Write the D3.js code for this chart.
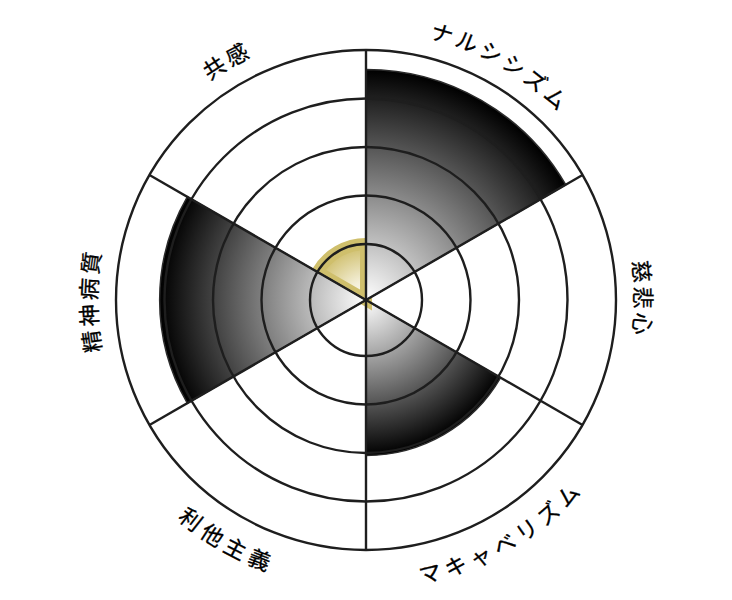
<!DOCTYPE html>
<html>
<head>
<meta charset="utf-8">
<script src="https://cdn.jsdelivr.net/npm/d3@7"></script>
<style>
  html, body { margin: 0; padding: 0; background: #fff; }
  svg { display: block; }
</style>
</head>
<body>
<div id="chart"></div>
<script>
// ---- data ----
const categories = ["ナルシシズム", "慈悲心", "マキャベリズム", "利他主義", "精神病質", "共感"];
const values = [4.6, 0, 3.05, 0, 4.1, 1.0];
const ringTicks = [1, 2, 3, 4, 5];
const maxValue = 5;
const highlightCategory = "共感";

// ---- layout ----
const W = 732, H = 600, cx = 366, cy = 300, outerR = 250, innerOffset = 7.5;

const svg = d3.select("#chart").append("svg")
  .attr("width", W).attr("height", H)
  .attr("viewBox", `0 0 ${W} ${H}`);
const defs = svg.append("defs");
const g = svg.append("g").attr("transform", `translate(${cx},${cy})`);

const rScale = d3.scaleLinear().domain([0, maxValue]).range([innerOffset, outerR]);
const aScale = d3.scaleBand().domain(categories).range([0, 2 * Math.PI]).paddingInner(0).paddingOuter(0);
const bw = aScale.bandwidth();

const data = categories.map((c, i) => ({ c, v: values[i], i }));
const barR = d => d.v > 0 ? rScale(d.v) : 0;

const arc = d3.arc()
  .innerRadius(0)
  .outerRadius(barR)
  .startAngle(d => aScale(d.c))
  .endAngle(d => aScale(d.c) + bw);

// gradients
data.forEach(d => {
  const grad = defs.append("radialGradient")
    .attr("id", "grad" + d.i)
    .attr("gradientUnits", "userSpaceOnUse")
    .attr("cx", 0).attr("cy", 0).attr("r", Math.max(barR(d), 1));
  const isGold = d.c === highlightCategory;
  grad.append("stop").attr("offset", "0%").attr("stop-color", "#ffffff");
  if (isGold) grad.append("stop").attr("offset", "35%").attr("stop-color", "#f3eed6");
  grad.append("stop").attr("offset", "100%").attr("stop-color", isGold ? "#cdbc66" : "#000000");
});

// drawing order: gold sector drawn before its neighbours so only its apex tip shows outside
const drawOrder = data.slice().sort((a, b) => {
  const rank = d => d.c === "マキャベリズム" ? 0 : (d.c === highlightCategory ? 1 : 2);
  return rank(a) - rank(b);
});

g.append("g").selectAll("path")
  .data(drawOrder.filter(d => d.v > 0))
  .join("path")
  .attr("d", arc)
  .attr("fill", d => `url(#grad${d.i})`)
  .attr("stroke", d => d.c === highlightCategory ? "#cfbf6c" : "#2c2c2c")
  .attr("stroke-width", d => d.c === highlightCategory ? 12 : 1.5)
  .attr("stroke-linejoin", "miter")
  .attr("stroke-miterlimit", 4);

// grid rings
const grid = g.append("g").attr("fill", "none").attr("stroke", "#1e1e1e").attr("stroke-width", 2.4);
grid.selectAll("circle")
  .data(ringTicks)
  .join("circle")
  .attr("r", d => rScale(d));

// radial spokes
grid.selectAll("line")
  .data(categories)
  .join("line")
  .attr("x1", 0).attr("y1", 0)
  .attr("x2", c => d3.pointRadial(aScale(c), rScale(maxValue))[0])
  .attr("y2", c => d3.pointRadial(aScale(c), rScale(maxValue))[1]);

// labels on arcs (paths live in the same translated space as the text)
const labelR = outerR + 29;
const labelPaths = g.append("g");
data.forEach(d => {
  const a0 = aScale(d.c), a1 = a0 + bw;
  const mid = (a0 + a1) / 2;
  const flip = mid > Math.PI / 2 + 1e-6 && mid < 3 * Math.PI / 2 - 1e-6;
  const p = d3.path();
  if (!flip) {
    p.arc(0, 0, labelR, a0 - Math.PI / 2, a1 - Math.PI / 2, false);
  } else {
    p.arc(0, 0, labelR, a1 - Math.PI / 2, a0 - Math.PI / 2, true);
  }
  labelPaths.append("path").attr("id", "lab" + d.i).attr("d", p.toString()).attr("fill", "none").attr("stroke", "none");
});

g.append("g").selectAll("text")
  .data(data)
  .join("text")
  .attr("font-family", "'Noto Sans CJK JP', 'Noto Sans', sans-serif")
  .attr("font-size", 22)
  .attr("letter-spacing", "4.5px")
  .attr("fill", "#000")
  .attr("stroke", "#000")
  .attr("stroke-width", 0.3)
  .attr("dominant-baseline", "central")
  .append("textPath")
  .attr("href", d => "#lab" + d.i)
  .attr("startOffset", "50%")
  .attr("text-anchor", "middle")
  .text(d => d.c);
</script>
</body>
</html>
